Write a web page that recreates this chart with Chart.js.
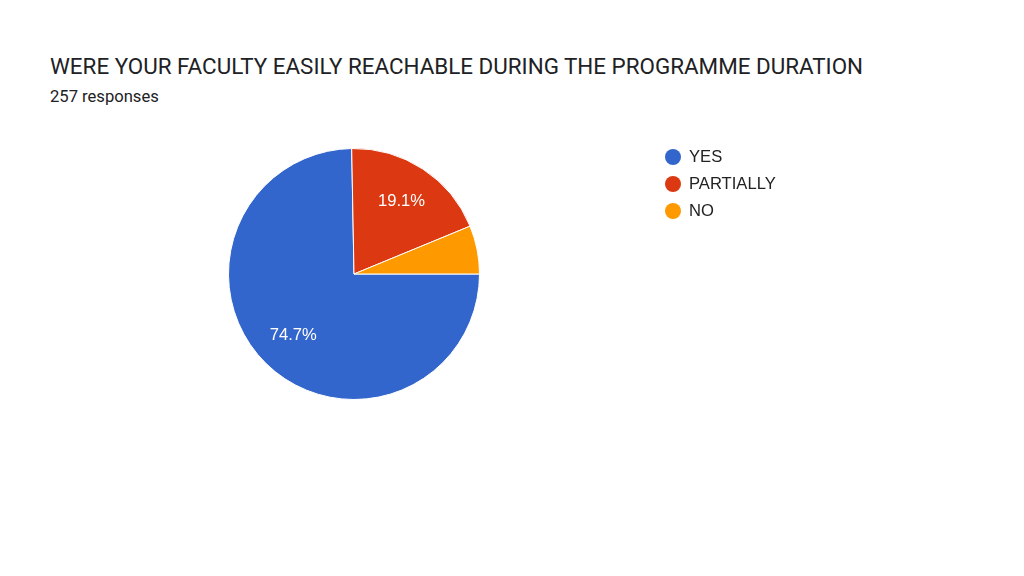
<!DOCTYPE html>
<html>
<head>
<meta charset="utf-8">
<script src="https://cdn.jsdelivr.net/npm/chart.js@4"></script>
<style>
  html, body { margin: 0; padding: 0; background: #fff; }
  #wrap { position: relative; width: 1024px; height: 576px; overflow: hidden; }
  #title { position: absolute; left: 50px; top: 53px; font: 22.4px Roboto, sans-serif; color: #202124; white-space: nowrap; }
  #sub { position: absolute; left: 50px; top: 87px; font: 16.6px Roboto, sans-serif; color: #202124; white-space: nowrap; }
  canvas { position: absolute; left: 0; top: 0; }
</style>
</head>
<body>
<div id="wrap">
  <div id="title">WERE YOUR FACULTY EASILY REACHABLE DURING THE PROGRAMME DURATION</div>
  <div id="sub">257 responses</div>
  <canvas id="pieChart" width="1024" height="576"></canvas>
</div>
<script>
// 回答データ
const labels = ['YES', 'PARTIALLY', 'NO'];
const counts = [192, 49, 16];
const colors = ['#3366cc', '#dc3912', '#ff9900'];

const total = counts.reduce((a, b) => a + b, 0);

// スライス内のパーセント表示
const sliceLabels = {
    id: 'sliceLabels',
    afterDatasetsDraw(chart) {
        const c = chart.ctx;
        const meta = chart.getDatasetMeta(0);
        c.save();
        c.fillStyle = '#ffffff';
        c.font = '16.6px "Liberation Sans", Arial, sans-serif';
        c.textAlign = 'center';
        c.textBaseline = 'middle';
        meta.data.forEach((arc, i) => {
            const pct = counts[i] / total * 100;
            if (pct < 10) return;
            const mid = (arc.startAngle + arc.endAngle) / 2;
            const r = arc.outerRadius * 0.69;
            c.fillText(pct.toFixed(1) + '%', arc.x + Math.cos(mid) * r, arc.y + Math.sin(mid) * r);
        });
        c.restore();
    }
};

// 右側の凡例
const sideLegend = {
    id: 'sideLegend',
    afterDraw(chart) {
        const c = chart.ctx;
        c.save();
        c.font = '16.6px "Liberation Sans", Arial, sans-serif';
        c.textBaseline = 'middle';
        labels.forEach((lab, i) => {
            const y = 157 + i * 27;
            c.fillStyle = colors[i];
            c.beginPath();
            c.arc(673, y, 8, 0, Math.PI * 2);
            c.fill();
            c.fillStyle = '#222222';
            c.fillText(lab, 689, y + 0.5);
        });
        c.restore();
    }
};

new Chart(document.getElementById('pieChart'), {
    type: 'pie',
    data: {
        labels: labels,
        datasets: [{
            data: counts,
            backgroundColor: colors,
            borderColor: '#ffffff',
            borderWidth: 1
        }]
    },
    options: {
        responsive: false,
        animation: false,
        rotation: 90,
        layout: { padding: { left: 228, top: 148, right: 544, bottom: 176 } },
        plugins: {
            legend: { display: false },
            tooltip: { enabled: false }
        }
    },
    plugins: [sliceLabels, sideLegend]
});
</script>
</body>
</html>
